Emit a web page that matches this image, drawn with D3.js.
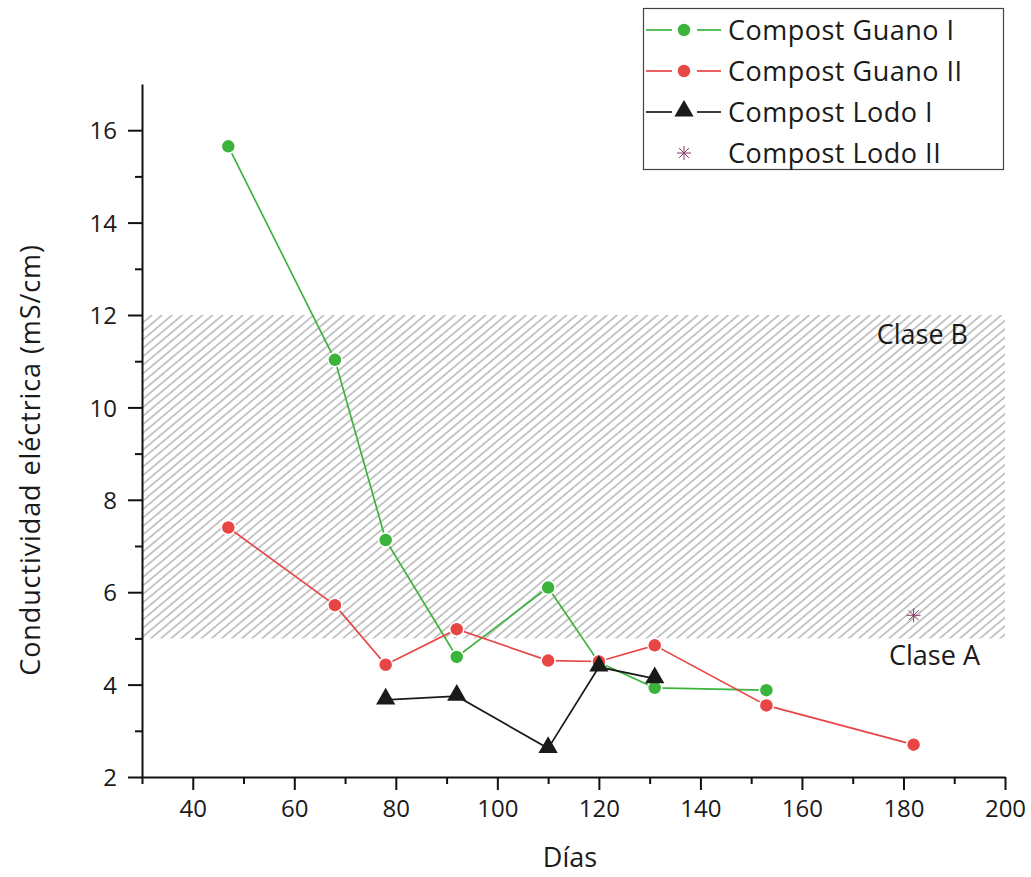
<!DOCTYPE html>
<html>
<head>
<meta charset="utf-8">
<script src="https://cdn.jsdelivr.net/npm/d3@7"></script>
<style>
  body { margin: 0; background: #fff; }
  text { font-family: "Open Sans", "DejaVu Sans", sans-serif; fill: #1a1a1a; }
</style>
</head>
<body>
<div id="chart"></div>
<script>
// Conductividad eléctrica vs días, compost guano / lodo

var guano1Dias = [47, 68, 78, 92, 110, 120, 131, 153];
var guano1CE   = [15.65, 11.03, 7.13, 4.6, 6.1, 4.48, 3.93, 3.88];

var guano2Dias = [47, 68, 78, 92, 110, 120, 131, 153, 182];
var guano2CE   = [7.4, 5.72, 4.43, 5.2, 4.52, 4.5, 4.85, 3.55, 2.7];

var lodo1Dias = [78, 92, 110, 120, 131];
var lodo1CE   = [3.67, 3.75, 2.62, 4.38, 4.13];

var lodo2Dias = [182];
var lodo2CE   = [5.5];

var xTicks = [40, 60, 80, 100, 120, 140, 160, 180, 200];
var yTicks = [2, 4, 6, 8, 10, 12, 14, 16];

var claseB = [5, 12];  // hatched band

var W = 1031, H = 877;
var margin = {left: 142, right: 24, top: 84, bottom: 100};

var svg = d3.select("#chart").append("svg")
    .attr("width", W)
    .attr("height", H);

var x = d3.scaleLinear().domain([30, 200]).range([margin.left, 1005]);
var y = d3.scaleLinear().domain([2, 17]).range([777, margin.top]);

// hatch pattern
var defs = svg.append("defs");
defs.append("pattern")
    .attr("id", "hatch")
    .attr("patternUnits", "userSpaceOnUse")
    .attr("width", 6.5)
    .attr("height", 10)
    .attr("patternTransform", "rotate(50)")
  .append("line")
    .attr("x1", 1).attr("y1", -1)
    .attr("x2", 1).attr("y2", 11)
    .attr("stroke", "#8e8e8e")
    .attr("stroke-width", 1);

svg.append("rect")
    .attr("x", x(30))
    .attr("y", y(claseB[1]))
    .attr("width", x(200) - x(30))
    .attr("height", y(claseB[0]) - y(claseB[1]))
    .attr("fill", "url(#hatch)");

// axes
var xAxis = d3.axisBottom(x)
    .tickValues(d3.range(30, 201, 10))
    .tickSize(0)
    .tickFormat("");
var gx = svg.append("g").attr("transform", "translate(0," + y(2) + ")");
gx.call(xAxis);
gx.select(".domain").attr("stroke", "#111").attr("stroke-width", 2);
gx.selectAll(".tick line")
    .attr("stroke", "#111")
    .attr("stroke-width", 2)
    .attr("y2", function(d) { return d % 20 == 0 ? 13 : 7; });
gx.selectAll(".tick").filter(function(d) { return xTicks.indexOf(d) >= 0; })
  .append("text")
    .attr("y", 40)
    .attr("text-anchor", "middle")
    .style("font-size", "24px")
    .text(function(d) { return d; });

var yAxis = d3.axisLeft(y)
    .tickValues(d3.range(2, 17, 1))
    .tickSize(0)
    .tickFormat("");
var gy = svg.append("g").attr("transform", "translate(" + x(30) + ",0)");
gy.call(yAxis);
gy.select(".domain").attr("stroke", "#111").attr("stroke-width", 2);
gy.selectAll(".tick line")
    .attr("stroke", "#111")
    .attr("stroke-width", 2)
    .attr("x2", function(d) { return d % 2 == 0 ? -14 : -7; });
gy.selectAll(".tick").filter(function(d) { return yTicks.indexOf(d) >= 0; })
  .append("text")
    .attr("x", -25)
    .attr("dy", "0.36em")
    .attr("text-anchor", "end")
    .style("font-size", "24px")
    .text(function(d) { return d; });

// axis titles
svg.append("text")
    .attr("x", 570)
    .attr("y", 867)
    .attr("text-anchor", "middle")
    .style("font-size", "27px")
    .text("Días");

svg.append("text")
    .attr("transform", "translate(40,460) rotate(-90)")
    .attr("text-anchor", "middle")
    .style("font-size", "27px")
    .style("letter-spacing", "0.9px")
    .text("Conductividad eléctrica (mS/cm)");

// class labels
svg.append("text")
    .attr("x", 968).attr("y", 344)
    .attr("text-anchor", "end")
    .style("font-size", "27px")
    .text("Clase B");
svg.append("text")
    .attr("x", 980).attr("y", 665)
    .attr("text-anchor", "end")
    .style("font-size", "27px")
    .text("Clase A");

// series
var line = d3.line()
    .x(function(d) { return x(d[0]); })
    .y(function(d) { return y(d[1]); });

function zip(a, b) { return a.map(function(v, i) { return [v, b[i]]; }); }

var series = [
  {name: "Compost Guano I",  data: zip(guano1Dias, guano1CE), color: "#3cb43c", marker: "circle", line: true},
  {name: "Compost Guano II", data: zip(guano2Dias, guano2CE), color: "#e84545", marker: "circle", line: true},
  {name: "Compost Lodo I",   data: zip(lodo1Dias, lodo1CE),   color: "#1a1a1a", marker: "triangle", line: true},
  {name: "Compost Lodo II",  data: zip(lodo2Dias, lodo2CE),   color: "#8a3a6a", marker: "star", line: false}
];

var tri = d3.symbol().type(d3.symbolTriangle).size(160);

function drawMarker(g, type, color) {
  if (type == "circle") {
    g.append("circle").attr("r", 7).attr("fill", color)
      .attr("stroke", "#fff").attr("stroke-width", 1.5);
  } else if (type == "triangle") {
    g.append("path").attr("d", tri()).attr("fill", color)
      .attr("transform", "translate(0,-1)");
  } else {
    var r = 7;
    [0, 45, 90, 135].forEach(function(a) {
      var rad = a * Math.PI / 180;
      g.append("line")
        .attr("x1", -r * Math.cos(rad)).attr("y1", -r * Math.sin(rad))
        .attr("x2", r * Math.cos(rad)).attr("y2", r * Math.sin(rad))
        .attr("stroke", color).attr("stroke-width", 1);
    });
  }
}

series.forEach(function(s) {
  if (s.line) {
    svg.append("path")
      .datum(s.data)
      .attr("d", line)
      .attr("fill", "none")
      .attr("stroke", s.color)
      .attr("stroke-width", 1.7);
  }
  s.data.forEach(function(d) {
    var g = svg.append("g").attr("transform", "translate(" + x(d[0]) + "," + y(d[1]) + ")");
    drawMarker(g, s.marker, s.color);
  });
});

// legend
var leg = svg.append("g");
leg.append("rect")
    .attr("x", 643.5).attr("y", 8.5)
    .attr("width", 360).attr("height", 161)
    .attr("fill", "#fff")
    .attr("stroke", "#444")
    .attr("stroke-width", 1.2);

series.forEach(function(s, i) {
  var cy = 30 + i * 41;
  var row = leg.append("g").attr("transform", "translate(0," + cy + ")");
  if (s.line) {
    row.append("line").attr("x1", 646).attr("x2", 672).attr("y1", 0).attr("y2", 0)
      .attr("stroke", s.color).attr("stroke-width", 1.7);
    row.append("line").attr("x1", 697).attr("x2", 721).attr("y1", 0).attr("y2", 0)
      .attr("stroke", s.color).attr("stroke-width", 1.7);
  }
  var m = row.append("g").attr("transform", "translate(684,0)");
  drawMarker(m, s.marker, s.color);
  row.append("text")
    .attr("x", 728)
    .attr("dy", "0.36em")
    .style("font-size", "27px")
    .style("letter-spacing", "0.5px")
    .text(s.name);
});
</script>
</body>
</html>
